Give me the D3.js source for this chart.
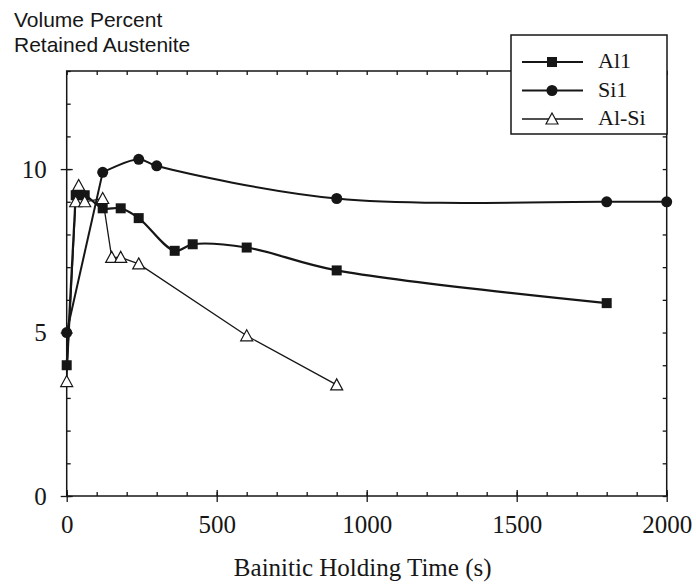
<!DOCTYPE html>
<html><head><meta charset="utf-8">
<script src="https://cdn.jsdelivr.net/npm/d3@7"></script>
<style>body{margin:0;background:#fff}svg{display:block}</style>
</head><body>
<svg id="c" width="696" height="584"></svg>
<script>
// ---- data ----
const seriesNames = ["Al1", "Si1", "Al-Si"];
const al1Time = [0, 30, 60, 120, 180, 240, 360, 420, 600, 900, 1800];
const al1Vol  = [4.0, 9.2, 9.2, 8.8, 8.8, 8.5, 7.5, 7.7, 7.6, 6.9, 5.9];
const si1Time = [0, 120, 240, 300, 900, 1800, 2000];
const si1Vol  = [5.0, 9.9, 10.3, 10.1, 9.1, 9.0, 9.0];
const alsiTime = [0, 30, 40, 60, 120, 150, 180, 240, 600, 900];
const alsiVol  = [3.5, 9.0, 9.5, 9.0, 9.1, 7.3, 7.3, 7.1, 4.9, 3.4];
const xMajorTicks = [0, 500, 1000, 1500, 2000];
const yMajorTicks = [0, 5, 10];
const xTitle = "Bainitic Holding Time (s)";
const yTitle = ["Volume Percent", "Retained Austenite"];

// ---- layout ----
const L = 66.7, R = 666.7, T = 71, B = 496;
const svg = d3.select("#c");
const x = d3.scaleLinear().domain([0, 2000]).range([L, R]);
const y = d3.scaleLinear().domain([0, 13]).range([B, T]);
const ink = "#161616";
const xMinor = d3.range(0, 2001, 100);
const yMinor = d3.range(0, 14, 1);

function clean(g){ g.select(".domain").remove(); g.selectAll("line").attr("stroke", ink).attr("stroke-width", 1.3); }

// bottom axis
svg.append("g").attr("transform", `translate(0,${B})`)
  .call(d3.axisBottom(x).tickValues(xMinor).tickSize(-4).tickFormat("")).call(clean);
svg.append("g").attr("transform", `translate(0,${B})`)
  .call(d3.axisBottom(x).tickValues(xMajorTicks).tickSize(-6).tickFormat("")).call(clean);
const gxb = svg.append("g").attr("transform", `translate(0,${B})`)
  .call(d3.axisBottom(x).tickValues(xMajorTicks).tickSize(6).tickPadding(13).tickFormat(d3.format("d")));
gxb.call(clean);
gxb.selectAll("text").attr("font-family", "'Liberation Serif', 'Times New Roman', serif")
  .attr("font-size", 25).attr("fill", ink);
// top axis
svg.append("g").attr("transform", `translate(0,${T})`)
  .call(d3.axisTop(x).tickValues(xMinor).tickSize(-4).tickFormat("")).call(clean);
// left axis
svg.append("g").attr("transform", `translate(${L},0)`)
  .call(d3.axisLeft(y).tickValues(yMinor).tickSize(-4).tickFormat("")).call(clean);
svg.append("g").attr("transform", `translate(${L},0)`)
  .call(d3.axisLeft(y).tickValues(yMajorTicks).tickSize(-6).tickFormat("")).call(clean);
const gyl = svg.append("g").attr("transform", `translate(${L},0)`)
  .call(d3.axisLeft(y).tickValues(yMajorTicks).tickSize(6).tickPadding(14).tickFormat(d3.format("d")));
gyl.call(clean);
gyl.selectAll("text").attr("font-family", "'Liberation Serif', 'Times New Roman', serif")
  .attr("font-size", 25).attr("fill", ink);
// right axis
svg.append("g").attr("transform", `translate(${R},0)`)
  .call(d3.axisRight(y).tickValues(yMinor).tickSize(-4).tickFormat("")).call(clean);

// frame
svg.append("rect").attr("x", L).attr("y", T).attr("width", R - L).attr("height", B - T)
  .attr("fill", "none").attr("stroke", ink).attr("stroke-width", 1.5);

// titles
svg.append("text").attr("x", (L + R) / 2 - 4).attr("y", 576).attr("text-anchor", "middle")
  .attr("font-family", "'Liberation Serif', 'Times New Roman', serif").attr("font-size", 25)
  .attr("fill", ink).text(xTitle);
yTitle.forEach((t, i) => svg.append("text").attr("x", 14).attr("y", 27 + i * 25)
  .attr("font-family", "'Liberation Sans', Arial, sans-serif").attr("font-size", 21)
  .attr("fill", ink).text(t));

// ---- series ----
// smoothFrom: index from which the line is drawn as a smooth curve (before it: straight segments)
const series = [
  {name: seriesNames[0], t: al1Time, v: al1Vol, smoothFrom: 1, w: 2.2, sym: "square"},
  {name: seriesNames[1], t: si1Time, v: si1Vol, smoothFrom: 1, w: 2.0, sym: "circle"},
  {name: seriesNames[2], t: alsiTime, v: alsiVol, smoothFrom: null, w: 1.3, sym: "triangle"}
];
function drawSym(g, sym, cx, cy){
  if (sym === "square") g.append("rect").attr("x", cx - 5).attr("y", cy - 5).attr("width", 10).attr("height", 10).attr("fill", ink);
  else if (sym === "circle") g.append("circle").attr("cx", cx).attr("cy", cy).attr("r", 5.5).attr("fill", ink);
  else g.append("path").attr("d", `M${cx},${cy - 6}L${cx + 6},${cy + 5}L${cx - 6},${cy + 5}Z`)
    .attr("fill", "#fff").attr("stroke", ink).attr("stroke-width", 1.2);
}
series.forEach(s => {
  const pts = s.t.map((t, i) => [t, s.v[i]]);
  const lin = d3.line().x(d => x(d[0])).y(d => y(d[1]));
  const smooth = d3.line().x(d => x(d[0])).y(d => y(d[1])).curve(d3.curveCatmullRom);
  if (s.smoothFrom === null) {
    svg.append("path").attr("d", lin(pts)).attr("fill", "none").attr("stroke", ink).attr("stroke-width", s.w);
  } else {
    svg.append("path").attr("d", lin(pts.slice(0, s.smoothFrom + 1))).attr("fill", "none").attr("stroke", ink).attr("stroke-width", s.w);
    svg.append("path").attr("d", smooth(pts.slice(s.smoothFrom))).attr("fill", "none").attr("stroke", ink).attr("stroke-width", s.w);
  }
  const g = svg.append("g");
  pts.forEach(p => drawSym(g, s.sym, x(p[0]), y(p[1])));
});

// legend
const lg = svg.append("g");
lg.append("rect").attr("x", 511).attr("y", 35).attr("width", 156).attr("height", 99)
  .attr("fill", "#fff").attr("stroke", ink).attr("stroke-width", 1.5);
series.forEach((s, i) => {
  const ly = 62 + i * 28.5;
  lg.append("line").attr("x1", 522).attr("x2", 583).attr("y1", ly).attr("y2", ly)
    .attr("stroke", ink).attr("stroke-width", s.w);
  drawSym(lg, s.sym, 552, ly);
  lg.append("text").attr("x", 598).attr("y", ly + 6).attr("font-family", "'Liberation Serif', 'Times New Roman', serif")
    .attr("font-size", 22).attr("fill", ink).text(s.name);
});
</script>
</body></html>
